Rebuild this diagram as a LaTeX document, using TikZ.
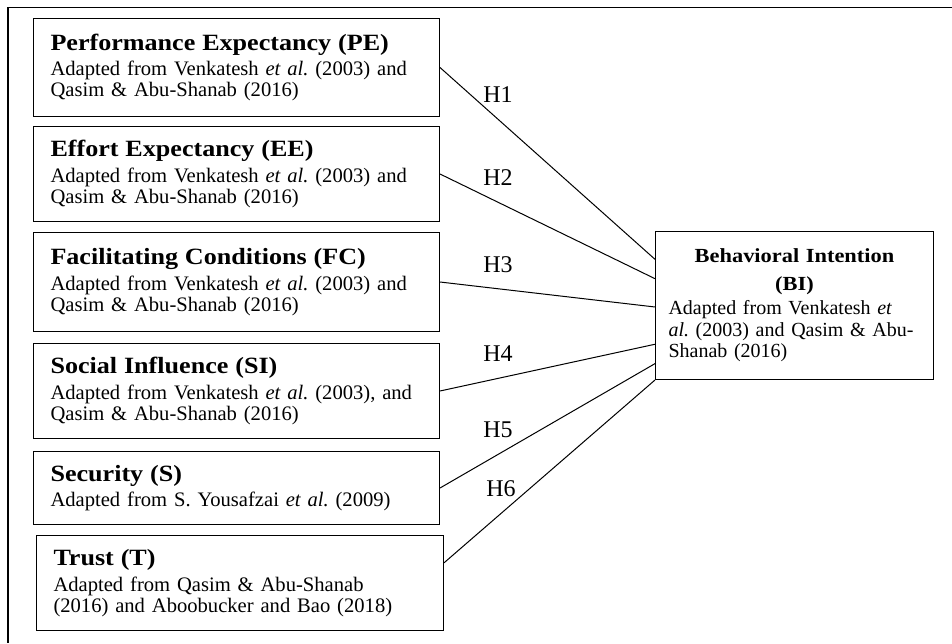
\documentclass[tikz,border=0pt]{standalone}
\usepackage{fontspec}
\setmainfont{Liberation Serif}[BoldFeatures={FakeStretch=1.12}]
\usetikzlibrary{positioning,calc}
\newcommand{\cname}[1]{{\fontsize{23.3}{23.3}\selectfont\bfseries #1}}

\begin{document}
\begin{tikzpicture}[x=1pt, y=-1pt,
    box/.style={rectangle, draw, line width=1pt, anchor=north west, minimum width=406pt, text width=372pt, inner xsep=17pt, inner ysep=0pt, align=left, font=\fontsize{20.6}{21}\selectfont},
    link/.style={line width=1pt},
    hlab/.style={pos=0.27, above=16pt, inner sep=0pt, font=\fontsize{24}{24}\selectfont}
]
\useasboundingbox (0,0) rectangle (952,643);
\draw[line width=1.4pt] (952,7.5) -| (8,643);

\node[box, minimum height=98pt] (pe) at (33,18) {\cname{Performance Expectancy (PE)}\\[4.7pt]Adapted from Venkatesh \textit{et al.}\ (2003) and\\Qasim \& Abu-Shanab (2016)};
\node[box, minimum height=95pt] (ee) at (33,126) {\cname{Effort Expectancy (EE)}\\[4.7pt]Adapted from Venkatesh \textit{et al.}\ (2003) and\\Qasim \& Abu-Shanab (2016)};
\node[box, minimum height=99pt] (fc) at (33,232) {\cname{Facilitating Conditions (FC)}\\[4.7pt]Adapted from Venkatesh \textit{et al.}\ (2003) and\\Qasim \& Abu-Shanab (2016)};
\node[box, minimum height=95pt] (si) at (33,343) {\cname{Social Influence (SI)}\\[4.7pt]Adapted from Venkatesh \textit{et al.}\ (2003), and\\Qasim \& Abu-Shanab (2016)};
\node[box, minimum height=73pt] (s) at (33,451) {\cname{Security (S)}\\[4.7pt]Adapted from S. Yousafzai \textit{et al.}\ (2009)};
\node[box, minimum height=95pt, minimum width=407pt, text width=373pt] (t) at (36,535) {\cname{Trust (T)}\\[4.7pt]Adapted from Qasim \& Abu-Shanab\\(2016) and Aboobucker and Bao (2018)};

\node[box, minimum width=278pt, text width=252pt, inner xsep=13pt, minimum height=148pt, font=\fontsize{20}{21.5}\selectfont] (bi) at (655,231) {{\centering\fontsize{20}{28}\selectfont\bfseries Behavioral Intention\\(BI)\par}\vspace{2.5pt}Adapted from Venkatesh \textit{et}\\\textit{al.}\ (2003) and Qasim \& Abu-\\Shanab (2016)\par\vspace{9pt}};

% end points on the BI box
\coordinate (b1) at ($(bi.north west)!0.19!(bi.south west)$);
\coordinate (b2) at ($(bi.north west)!0.32!(bi.south west)$);
\coordinate (b3) at ($(bi.north west)!0.51!(bi.south west)$);
\coordinate (b4) at ($(bi.north west)!0.76!(bi.south west)$);
\coordinate (b5) at ($(bi.north west)!0.89!(bi.south west)$);
\coordinate (t1) at ($(t.north east)!0.29!(t.south east)$);

\draw[link] (pe.east) -- node[hlab] {H1} (b1);
\draw[link] (ee.east) -- node[hlab] {H2} (b2);
\draw[link] (fc.east) -- node[hlab] {H3} (b3);
\draw[link] (si.east) -- node[hlab] {H4} (b4);
\draw[link] (s.east) -- node[hlab] {H5} (b5);
\draw[link] (t1) -- node[hlab] {H6} (bi.south west);
\end{tikzpicture}
\end{document}
